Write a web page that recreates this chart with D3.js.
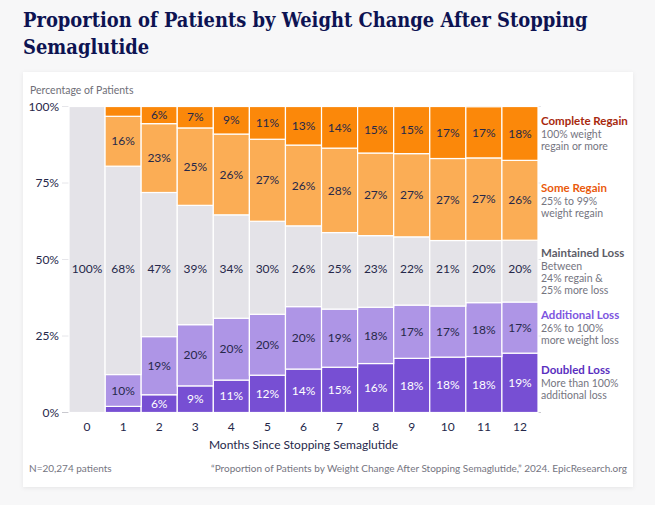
<!DOCTYPE html>
<html>
<head>
<meta charset="utf-8">
<script src="https://cdn.jsdelivr.net/npm/d3@7"></script>
<style>
  body { margin: 0; background: #f7f7f8; font-family: Lato, "Open Sans", sans-serif; }
  #chart { position: absolute; left: 0; top: 0; }
</style>
</head>
<body>
<div id="chart"></div>
<script>
// Months since stopping
let months = ["0", "1", "2", "3", "4", "5", "6", "7", "8", "9", "10", "11", "12"];

// Share of patients (%) per month, bottom to top of each bar
let doubledLoss     = [0, 2.0, 5.8, 8.7, 10.6, 12.2, 14.2, 14.8, 16.0, 17.7, 18.1, 18.3, 19.4];
let additionalLoss  = [0, 10.4, 19.0, 20.0, 20.2, 19.9, 20.4, 19.0, 18.4, 17.4, 16.7, 17.6, 16.7];
let maintainedLoss  = [100, 68.1, 47.1, 39.0, 33.8, 30.4, 26.4, 25.0, 23.4, 22.3, 21.4, 20.3, 20.2];
let someRegain      = [0, 16.3, 22.5, 25.3, 26.4, 26.8, 26.4, 27.6, 27.0, 27.2, 26.8, 27.0, 26.1];
let completeRegain  = [0, 3.2, 5.6, 7.0, 9.0, 10.7, 12.6, 13.6, 15.2, 15.4, 17.0, 16.7, 17.6];

let seriesKeys = ["doubled", "additional", "maintained", "some", "complete"];
let seriesNames = ["Doubled Loss", "Additional Loss", "Maintained Loss", "Some Regain", "Complete Regain"];
let seriesNotes = [
    ["More than 100%", "additional loss"],
    ["26% to 100%", "more weight loss"],
    ["Between", "24% regain &", "25% more loss"],
    ["25% to 99%", "weight regain"],
    ["100% weight", "regain or more"]
];
let yTicks = [0, 25, 50, 75, 100];

// colours
let fills = ["#774fd3", "#ae95e6", "#e4e3e8", "#fbad55", "#fb880a"];
let legendColors = ["#5a2fc0", "#7d55e0", "#5d5d68", "#ea5a0c", "#a8290e"];
let labelColors = ["#ffffff", "#26284a", "#26284a", "#26284a", "#26284a"];

let table = months.map((m, i) => ({
    month: m,
    doubled: doubledLoss[i],
    additional: additionalLoss[i],
    maintained: maintainedLoss[i],
    some: someRegain[i],
    complete: completeRegain[i]
}));

let width = 655;
let height = 505;

let svg = d3.select("#chart").append("svg")
    .attr("width", width)
    .attr("height", height);

// Card with soft shadow.
let defs = svg.append("defs");
let shadow = defs.append("filter").attr("id", "shadow")
    .attr("x", "-5%").attr("y", "-5%").attr("width", "110%").attr("height", "110%");
shadow.append("feDropShadow")
    .attr("dx", 0).attr("dy", 1).attr("stdDeviation", 2)
    .attr("flood-color", "#000").attr("flood-opacity", 0.07);

svg.append("rect")
    .attr("x", 23).attr("y", 72)
    .attr("width", 610).attr("height", 415)
    .attr("fill", "#ffffff")
    .attr("filter", "url(#shadow)");

// Title, sized to fit its line.
let titleLines = ["Proportion of Patients by Weight Change After Stopping", "Semaglutide"];
let title = svg.append("g");
let t1 = title.append("text")
    .attr("x", 23).attr("y", 27)
    .attr("font-family", "'DejaVu Serif', serif")
    .attr("font-weight", "bold")
    .attr("font-stretch", "condensed")
    .attr("font-size", 20)
    .attr("fill", "#0d1352")
    .text(titleLines[0]);
let fitSize = 20 * 565 / t1.node().getComputedTextLength();
t1.attr("font-size", fitSize);
title.append("text")
    .attr("x", 23).attr("y", 54)
    .attr("font-family", "'DejaVu Serif', serif")
    .attr("font-weight", "bold")
    .attr("font-stretch", "condensed")
    .attr("font-size", fitSize)
    .attr("fill", "#0d1352")
    .text(titleLines[1]);

// Scales
let x = d3.scaleBand()
    .domain(months)
    .range([69, 538])
    .padding(0);

let y = d3.scaleLinear()
    .domain([0, 100])
    .range([412.5, 106.5]);

// Gridlines
svg.append("g")
    .selectAll("line")
    .data(yTicks)
    .enter()
    .append("line")
    .attr("x1", 62).attr("x2", 541)
    .attr("y1", d => y(d)).attr("y2", d => y(d))
    .attr("stroke", d => d === 0 ? "#c9c9cf" : "#e6e6ea")
    .attr("stroke-width", 1);

// y tick labels
svg.append("g")
    .selectAll("text")
    .data(yTicks)
    .enter()
    .append("text")
    .attr("x", 59)
    .attr("y", d => y(d))
    .attr("dy", "0.35em")
    .attr("text-anchor", "end")
    .attr("font-size", 12)
    .attr("fill", "#26284a")
    .text(d => d + "%");

svg.append("text")
    .attr("x", 30).attr("y", 94)
    .attr("font-size", 10.5)
    .attr("fill", "#6f6f78")
    .text("Percentage of Patients");

// Stacked bars
let stacked = d3.stack().keys(seriesKeys)(table);

let layers = svg.append("g")
    .selectAll("g")
    .data(stacked)
    .enter()
    .append("g")
    .attr("fill", (d, i) => fills[i]);

layers.selectAll("rect")
    .data(d => d)
    .enter()
    .append("rect")
    .attr("x", d => x(d.data.month))
    .attr("width", x.bandwidth())
    .attr("y", d => y(d[1]))
    .attr("height", d => y(d[0]) - y(d[1]))
    .attr("stroke", "#ffffff")
    .attr("stroke-width", 1.2);

// Segment labels
stacked.forEach(function(layer, li) {
    svg.append("g")
        .selectAll("text")
        .data(layer.filter(d => d[1] - d[0] >= 4))
        .enter()
        .append("text")
        .attr("x", d => x(d.data.month) + x.bandwidth() / 2)
        .attr("y", d => layer.key === "maintained" ? y(47) : y((d[0] + d[1]) / 2))
        .attr("dy", "0.35em")
        .attr("text-anchor", "middle")
        .attr("font-size", 12)
        .attr("fill", labelColors[li])
        .text(d => Math.round(d[1] - d[0]) + "%");
});

// x tick labels
svg.append("g")
    .selectAll("text")
    .data(months)
    .enter()
    .append("text")
    .attr("x", d => x(d) + x.bandwidth() / 2)
    .attr("y", 427)
    .attr("dy", "0.35em")
    .attr("text-anchor", "middle")
    .attr("font-size", 12)
    .attr("fill", "#26284a")
    .text(d => d);

svg.append("text")
    .attr("x", (x.range()[0] + x.range()[1]) / 2)
    .attr("y", 445)
    .attr("dy", "0.35em")
    .attr("text-anchor", "middle")
    .attr("font-size", 12)
    .attr("fill", "#26284a")
    .text("Months Since Stopping Semaglutide");

// Legend, lined up with the last bar's segments
let last = months.length - 1;
stacked.forEach(function(layer, li) {
    let seg = layer[last];
    let lines = seriesNotes[li];
    let blockH = 13 + lines.length * 12;
    let top = y((seg[0] + seg[1]) / 2) - blockH / 2;
    let g = svg.append("g");
    g.append("text")
        .attr("x", 541)
        .attr("y", top + 10)
        .attr("font-size", 11.5)
        .attr("font-weight", "bold")
        .attr("fill", legendColors[li])
        .text(seriesNames[li]);
    g.selectAll("text.note")
        .data(lines)
        .enter()
        .append("text")
        .attr("class", "note")
        .attr("x", 541)
        .attr("y", (d, i) => top + 23 + i * 12)
        .attr("font-size", 10.5)
        .attr("fill", "#75757f")
        .text(d => d);
});

// Footer
svg.append("text")
    .attr("x", 29).attr("y", 472)
    .attr("font-size", 10)
    .attr("fill", "#75757f")
    .text("N=20,274 patients");

svg.append("text")
    .attr("x", 627).attr("y", 472)
    .attr("text-anchor", "end")
    .attr("font-size", 10)
    .attr("fill", "#75757f")
    .text("\u201CProportion of Patients by Weight Change After Stopping Semaglutide,\u201D 2024. EpicResearch.org");
</script>
</body>
</html>
